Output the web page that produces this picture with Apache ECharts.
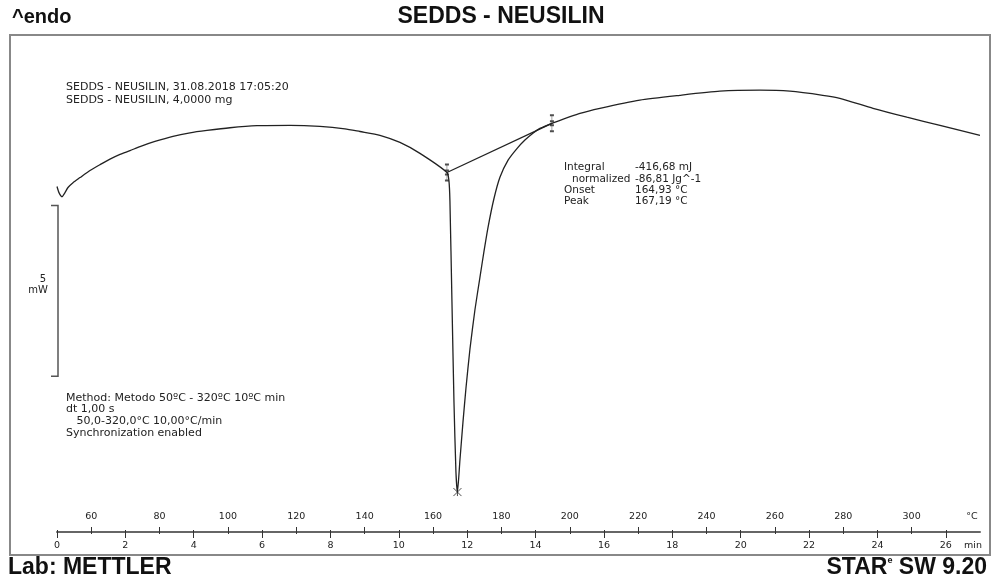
<!DOCTYPE html>
<html><head><meta charset="utf-8">
<script src="https://cdn.jsdelivr.net/npm/echarts@6/dist/echarts.min.js"></script>
<style>html,body{margin:0;padding:0;background:#fff}#c{width:992px;height:578px}</style>
</head><body><div id="c"></div>
<script>
// DSC curve: temperature (°C) and heat flow (mW, arbitrary offset, endo up)
const temps = [50.0,50.58,51.46,52.34,53.22,54.68,56.73,59.65,62.58,65.5,68.43,71.35,74.28,78.66,83.93,88.9,93.87,100.6,108.5,118.15,126.92,134.23,138.62,144.47,150.32,156.17,164.07,164.65,164.94,165.53,166.12,166.7,167.14,167.87,168.75,169.63,170.8,172.26,173.72,174.89,176.06,177.81,179.57,181.95,184.54,186.88,189.22,191.27,193.32,194.78,202.97,208.82,220.5,232.2,243.9,255.6,264.4,274.0,279.0,288.7,298.6,308.3,320.0];
const heatFlow = [-1.29,-1.47,-1.59,-1.47,-1.32,-1.18,-1.03,-0.82,-0.65,-0.49,-0.35,-0.24,-0.12,0.03,0.18,0.28,0.35,0.43,0.49,0.5,0.47,0.4,0.32,0.21,0.0,-0.32,-0.88,-1.12,-1.71,-4.65,-7.59,-9.65,-10.24,-9.3,-8.2,-7.2,-6.05,-4.9,-3.95,-3.2,-2.5,-1.65,-1.02,-0.52,-0.18,0.07,0.27,0.41,0.5,0.56,0.85,1.0,1.24,1.38,1.5,1.53,1.5,1.38,1.29,1.0,0.74,0.5,0.21];
// integration limits (baseline) and peak
const baseT = [164.07,194.78];
const baseHF = [-0.88,0.56];
const peakT = [167.14];
const peakHF = [-10.24];
// scale bar: 5 mW
const scaleBarT = [50];
const scaleBarTop = [-1.85];
const scaleBarBottom = [-6.85];
// axis ticks
const tempTicks = [60,80,100,120,140,160,180,200,220,240,260,280,300];
const timeTicks = [0,2,4,6,8,10,12,14,16,18,20,22,24,26];

const zip = (a,b)=>a.map((v,i)=>[v,b[i]]);
const chart = echarts.init(document.getElementById('c'));
const small = 'DejaVu Sans';
const limitSym = 'path://M0,0 L4,0 M2,0 L2,16 M0,16 L4,16 M0,6 L4,6 M0,10 L4,10';
const axisBase = {type:'value', gridIndex:0, position:'bottom', splitLine:{show:false}};
const txt = (x,y,t,size)=>({type:'text', x:x, y:y, style:{text:t, font:(size||10.5)+'px "DejaVu Sans"', fill:'#222', verticalAlign:'middle'}});
chart.setOption({
  animation:false,
  grid:{left:57, right:12, top:40, bottom:46},
  xAxis:[
    Object.assign({}, axisBase, {min:50, max:320,
      axisLine:{show:true, onZero:false, lineStyle:{color:'#666', width:2}},
      axisTick:{show:true, inside:true, length:5, customValues:tempTicks, lineStyle:{color:'#333'}},
      axisLabel:{show:true, inside:true, margin:10, customValues:tempTicks, fontFamily:small, fontSize:9.5, color:'#222'}}),
    Object.assign({}, axisBase, {min:50, max:320,
      axisLine:{show:false, onZero:false},
      axisTick:{show:true, inside:false, length:2, customValues:tempTicks, lineStyle:{color:'#333'}},
      axisLabel:{show:false}}),
    Object.assign({}, axisBase, {min:0, max:27,
      axisLine:{show:false, onZero:false},
      axisTick:{show:true, inside:false, length:6, customValues:timeTicks, lineStyle:{color:'#333'}},
      axisLabel:{show:true, margin:9, customValues:timeTicks, fontFamily:small, fontSize:9.5, color:'#222'}}),
    Object.assign({}, axisBase, {min:0, max:27,
      axisLine:{show:false, onZero:false},
      axisTick:{show:true, inside:true, length:2, customValues:timeTicks, lineStyle:{color:'#333'}},
      axisLabel:{show:false}})
  ],
  yAxis:{type:'value', min:-11.41, max:3.0, show:false},
  series:[
    {type:'line', xAxisIndex:0, data:zip(temps,heatFlow), showSymbol:false, smooth:0.2, lineStyle:{color:'#222', width:1.3}},
    {type:'line', xAxisIndex:0, data:zip(baseT,baseHF), showSymbol:false, lineStyle:{color:'#222', width:1.3}},
    {type:'scatter', xAxisIndex:0, data:zip(baseT,baseHF), symbol:limitSym, symbolSize:[4,16], itemStyle:{color:'none', borderColor:'#222', borderWidth:1}},
    {type:'scatter', xAxisIndex:0, data:zip(peakT,peakHF), symbol:'path://M0,0 L8,8 M8,0 L0,8 M4,0 L4,8', symbolSize:8, itemStyle:{color:'none', borderColor:'#222', borderWidth:1}},
    {type:'custom', xAxisIndex:0, clip:false,
      data:scaleBarT.map((t,i)=>[t, scaleBarTop[i], scaleBarBottom[i]]),
      encode:{x:0, y:[1,2]},
      renderItem:function(params, api){
        const a = api.coord([api.value(0), api.value(1)]);
        const b = api.coord([api.value(0), api.value(2)]);
        return {type:'polyline', shape:{points:[[a[0]-6,a[1]],[a[0]+1,a[1]],[b[0]+1,b[1]],[b[0]-6,b[1]]]}, style:{stroke:'#555', lineWidth:1.5, fill:null}};
      }}
  ],
  graphic:[
    {type:'rect', shape:{x:10, y:35, width:980, height:520}, style:{fill:'none', stroke:'#888', lineWidth:2}, silent:true},
    {type:'text', x:12, y:17, style:{text:'^endo', font:'bold 20px "Liberation Sans", Arial', fill:'#111', verticalAlign:'middle'}},
    {type:'text', x:501, y:17, style:{text:'SEDDS - NEUSILIN', font:'bold 23px "Liberation Sans", Arial', fill:'#111', align:'center', verticalAlign:'middle'}},
    {type:'text', x:8, y:568, style:{text:'Lab: METTLER', font:'bold 23px "Liberation Sans", Arial', fill:'#111', verticalAlign:'middle'}},
    {type:'text', x:987, y:568, style:{text:'{a|STAR}{b|e}{a| SW 9.20}', align:'right', verticalAlign:'middle', rich:{a:{font:'bold 23px "Liberation Sans", Arial', fill:'#111'}, b:{font:'bold 9px "Liberation Sans", Arial', fill:'#111', verticalAlign:'top', padding:[0,0,8,0]}}}},
    {type:'text', x:66, y:81, style:{text:'SEDDS - NEUSILIN, 31.08.2018 17:05:20\nSEDDS - NEUSILIN, 4,0000 mg', font:'11px "DejaVu Sans"', lineHeight:12.5, fill:'#222'}},
    txt(564,167,'Integral'), txt(572,179,'normalized'), txt(564,190,'Onset'), txt(564,201,'Peak'),
    txt(635,167,'-416,68 mJ'), txt(635,179,'-86,81 Jg^-1'), txt(635,190,'164,93 °C'), txt(635,201,'167,19 °C'),
    {type:'text', x:66, y:392, style:{text:'Method: Metodo 50ºC - 320ºC 10ºC min\ndt 1,00 s\n   50,0-320,0°C 10,00°C/min\nSynchronization enabled', font:'11px "DejaVu Sans"', lineHeight:11.7, fill:'#222'}},
    {type:'text', x:43, y:279, style:{text:'5', font:'10px "DejaVu Sans"', fill:'#222', align:'center', verticalAlign:'middle'}},
    {type:'text', x:38, y:290, style:{text:'mW', font:'10px "DejaVu Sans"', fill:'#222', align:'center', verticalAlign:'middle'}},
    {type:'text', x:972, y:517, style:{text:'°C', font:'9.5px "DejaVu Sans"', fill:'#222', align:'center', verticalAlign:'middle'}},
    {type:'text', x:973, y:546, style:{text:'min', font:'9.5px "DejaVu Sans"', fill:'#222', align:'center', verticalAlign:'middle'}}
  ]
});
</script></body></html>
